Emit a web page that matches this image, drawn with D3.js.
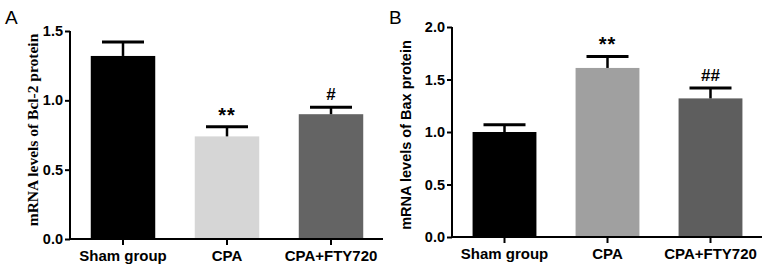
<!DOCTYPE html>
<html>
<head>
<meta charset="utf-8">
<script src="https://cdn.jsdelivr.net/npm/d3@7/dist/d3.min.js"></script>
<style>
  html, body { margin: 0; padding: 0; background: #fff; }
  svg { display: block; }
</style>
</head>
<body>
<svg id="chart" width="772" height="267"></svg>
<script>
// ---- Data ----
const categories = ["Sham group", "CPA", "CPA+FTY720"];
const bcl2Means  = [1.32, 0.74, 0.90];
const bcl2Errors = [0.10, 0.07, 0.05];
const bcl2Marks  = ["", "**", "#"];
const bcl2Ticks  = [0.0, 0.5, 1.0, 1.5];
const bcl2Colors = ["#000000", "#d6d6d6", "#646464"];

const baxMeans  = [1.00, 1.61, 1.32];
const baxErrors = [0.07, 0.11, 0.10];
const baxMarks  = ["", "**", "##"];
const baxTicks  = [0.0, 0.5, 1.0, 1.5, 2.0];
const baxColors = ["#000000", "#a0a0a0", "#5e5e5e"];

const svg = d3.select("#chart");

function drawPanel(cfg) {
  const g = svg.append("g");
  const y = d3.scaleLinear().domain(cfg.domain).range([cfg.y0, cfg.y1]);
  const x = d3.scaleBand().domain(categories).range([cfg.bx0, cfg.bx1])
    .paddingInner(0.38).paddingOuter(0.19);

  // bars
  g.selectAll("rect.bar").data(categories).enter().append("rect")
    .attr("x", d => x(d))
    .attr("y", (d, i) => y(cfg.means[i]))
    .attr("width", x.bandwidth())
    .attr("height", (d, i) => y(0) - y(cfg.means[i]))
    .attr("fill", (d, i) => cfg.colors[i]);

  // error bars
  const capW = 42;
  categories.forEach((c, i) => {
    const cx = x(c) + x.bandwidth() / 2;
    const top = y(cfg.means[i] + cfg.errors[i]);
    g.append("line").attr("x1", cx).attr("x2", cx)
      .attr("y1", y(cfg.means[i])).attr("y2", top)
      .attr("stroke", "#000").attr("stroke-width", 2.5);
    g.append("line").attr("x1", cx - capW / 2).attr("x2", cx + capW / 2)
      .attr("y1", top).attr("y2", top)
      .attr("stroke", "#000").attr("stroke-width", 3);
    if (cfg.marks[i]) {
      const isStar = cfg.marks[i].indexOf("*") >= 0;
      g.append("text").attr("x", cx).attr("y", top - (isStar ? 5 : 7))
        .attr("text-anchor", "middle")
        .attr("font-family", "Liberation Sans, Arial, sans-serif")
        .attr("font-weight", "bold")
        .attr("font-size", isStar ? 20 : 17)
        .attr("letter-spacing", isStar ? 1 : 0)
        .text(cfg.marks[i]);
    }
  });

  // y axis
  const yAxis = d3.axisLeft(y).tickValues(cfg.ticks)
    .tickFormat(d3.format(".1f")).tickSize(5).tickPadding(2);
  const ya = g.append("g").attr("transform", `translate(${cfg.ax},0)`).call(yAxis);
  ya.select(".domain").remove();
  ya.selectAll(".tick line").attr("stroke", "#000").attr("stroke-width", 2);
  ya.selectAll(".tick text")
    .attr("font-family", "Liberation Sans, Arial, sans-serif")
    .attr("font-weight", "bold").attr("font-size", 14.5).attr("fill", "#000");
  g.append("line").attr("x1", cfg.ax).attr("x2", cfg.ax)
    .attr("y1", y(0) + 1).attr("y2", y(cfg.domain[1]))
    .attr("stroke", "#000").attr("stroke-width", 2);

  // x axis
  const xAxis = d3.axisBottom(x).tickSize(6).tickPadding(5);
  const xa = g.append("g").attr("transform", `translate(0,${y(0)})`).call(xAxis);
  xa.select(".domain").remove();
  xa.selectAll(".tick line").attr("stroke", "#000").attr("stroke-width", 2);
  xa.selectAll(".tick text")
    .attr("font-family", "Liberation Sans, Arial, sans-serif")
    .attr("font-weight", "bold").attr("font-size", 15).attr("fill", "#000");
  g.append("line").attr("x1", cfg.ax - 1).attr("x2", cfg.bx1)
    .attr("y1", y(0)).attr("y2", y(0))
    .attr("stroke", "#000").attr("stroke-width", 2);

  // y label
  g.append("text")
    .attr("transform", `translate(${cfg.lx},${(cfg.y0 + cfg.y1) / 2 + cfg.ldy}) rotate(-90)`)
    .attr("text-anchor", "middle")
    .attr("font-family", cfg.lfont)
    .attr("font-weight", "bold")
    .attr("font-size", cfg.lsize)
    .text(cfg.label);

  // panel letter
  g.append("text").attr("x", cfg.px).attr("y", 24)
    .attr("font-family", "Liberation Sans, Arial, sans-serif")
    .attr("font-size", 19)
    .text(cfg.panel);
}

drawPanel({
  means: bcl2Means, errors: bcl2Errors, marks: bcl2Marks, ticks: bcl2Ticks, colors: bcl2Colors,
  domain: [0, 1.5], y0: 239, y1: 31, ax: 70, bx0: 71, bx1: 383,
  label: "mRNA levels of Bcl-2 protein", lfont: "Liberation Serif, Times New Roman, serif",
  lsize: 15.5, lx: 38, ldy: -5, panel: "A", px: 5
});

drawPanel({
  means: baxMeans, errors: baxErrors, marks: baxMarks, ticks: baxTicks, colors: baxColors,
  domain: [0, 2.0], y0: 237, y1: 27, ax: 452, bx0: 453, bx1: 762,
  label: "mRNA levels of Bax protein", lfont: "Liberation Sans, Arial, sans-serif",
  lsize: 14.5, lx: 411, ldy: 3, panel: "B", px: 389
});
</script>
</body>
</html>
